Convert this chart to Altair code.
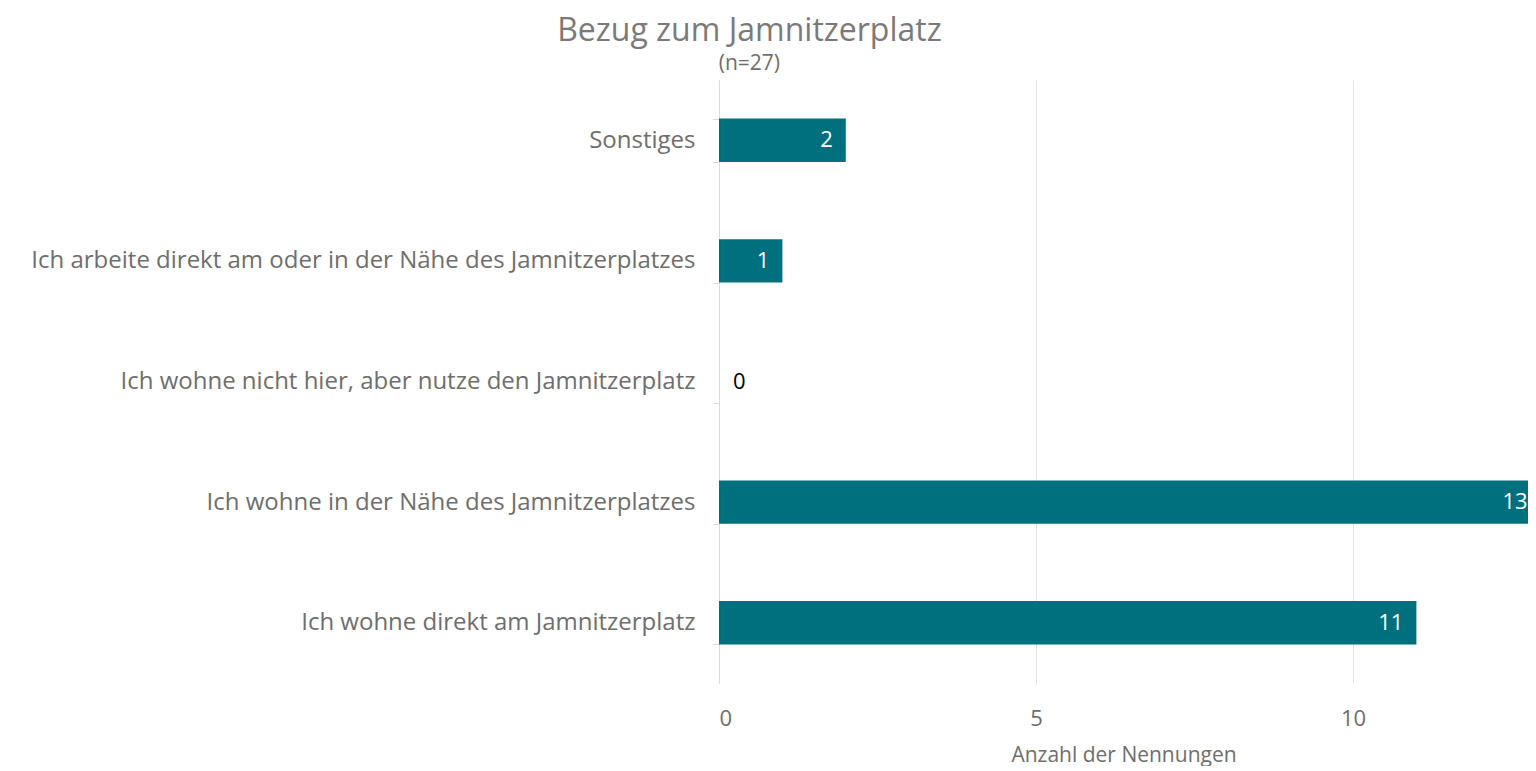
import altair as alt
import pandas as pd

categories = [
    "Sonstiges",
    "Ich arbeite direkt am oder in der Nähe des Jamnitzerplatzes",
    "Ich wohne nicht hier, aber nutze den Jamnitzerplatz",
    "Ich wohne in der Nähe des Jamnitzerplatzes",
    "Ich wohne direkt am Jamnitzerplatz",
]
counts = [2, 1, 0, 13, 11]

XMAX = 12.76
df = pd.DataFrame({"cat": categories, "n": counts})

FONT = "Open Sans"
GRAY = "#6e6e6e"
TEAL = "#00707f"

base = alt.Chart(df).encode(
    y=alt.Y("cat:N", sort=categories, title=None,
            scale=alt.Scale(paddingInner=0.64, paddingOuter=0.32),
            axis=alt.Axis(tickBand="extent", domainColor="#d9d9d9", tickColor="#d9d9d9",
                          tickSize=6, labelPadding=18, labelFontSize=24, labelColor=GRAY,
                          labelFont=FONT, labelLimit=900, grid=False)),
)

bars = base.mark_bar(color=TEAL, clip=True).encode(
    x=alt.X("n:Q", title="Anzahl der Nennungen",
            scale=alt.Scale(domain=[0, XMAX], nice=False, zero=True),
            axis=alt.Axis(values=[0, 5, 10], format="d", domain=False, ticks=False, grid=True,
                          gridColor="#e2e2e2", labelFontSize=22, labelColor=GRAY,
                          labelFont=FONT, labelPadding=25, titleFontSize=21,
                          titleColor=GRAY, titleFont=FONT, titleFontWeight="normal",
                          titlePadding=15)),
)

inside = base.mark_text(align="right", baseline="middle", dx=-13, color="white",
                        fontSize=22, font=FONT).transform_filter(
    alt.datum.n > 0
).transform_calculate(
    pos=f"min(datum.n, {XMAX} + 0.2)"
).encode(x="pos:Q", text="n:Q")

outside = base.mark_text(align="left", baseline="middle", dx=14, color="black",
                         fontSize=22, font=FONT).transform_filter(
    alt.datum.n == 0
).encode(x="n:Q", text="n:Q")

chart = (bars + inside + outside).properties(
    width=809, height=603,
    title=alt.TitleParams(
        "Bezug zum Jamnitzerplatz", subtitle="(n=27)", fontSize=32, font=FONT,
        fontWeight="normal", color="#7a7a7a", subtitleFont=FONT, subtitleFontSize=21,
        subtitleColor=GRAY, anchor="middle", frame="bounds", subtitlePadding=5, offset=-7,
        dx=-30,
    ),
    padding={"left": 22, "top": 7, "right": 0, "bottom": 1},
).configure_view(stroke=None)

chart.save("out.html", embed_options={"renderer": "svg", "actions": False})
